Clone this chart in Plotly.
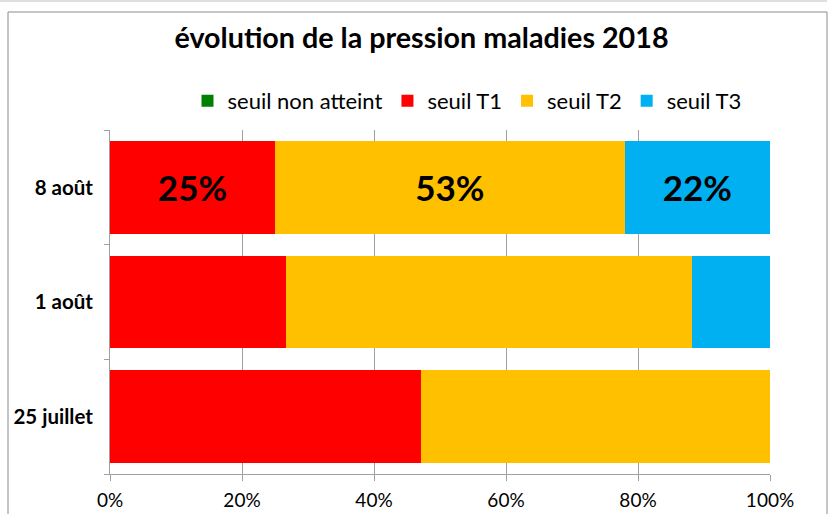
import plotly.graph_objects as go

categories = ["25 juillet", "1 août", "8 août"]
series_names = ["seuil non atteint", "seuil T1", "seuil T2", "seuil T3"]
non_atteint = [0.0, 0.0, 0.0]
t1 = [0.471, 0.267, 0.25]
t2 = [0.529, 0.615, 0.53]
t3 = [0.0, 0.118, 0.22]
colors = ["#008000", "#FF0000", "#FFC000", "#00B0F0"]
labelled_categories = ["8 août"]
x_ticks = [0, 0.2, 0.4, 0.6, 0.8, 1.0]
x_ticktext = ["0%", "20%", "40%", "60%", "80%", "100%"]

FONT = "Lato"
W, H = 834, 514
L, R, T, B = 110, 64, 130, 40
pw, ph = W - L - R, H - T - B

fig = go.Figure()
for name, vals, col in zip(series_names, [non_atteint, t1, t2, t3], colors):
    texts = [f"{round(v*100)}%" if (c in labelled_categories and v > 0) else ""
             for c, v in zip(categories, vals)]
    fig.add_trace(go.Bar(
        y=categories, x=vals, name=name, orientation="h",
        marker=dict(color=col, line=dict(width=0)),
        text=texts, textposition="inside", insidetextanchor="middle",
        textfont=dict(family=FONT, size=35, color="black", weight="bold"),
        textangle=0, cliponaxis=False,
    ))

def px(x):
    return (x - L) / pw

def py(y):
    return (H - B - y) / ph

fig.update_layout(
    width=W, height=H,
    barmode="stack", bargap=0.19,
    uniformtext=dict(mode=False),
    margin=dict(l=L, r=R, t=T, b=B, pad=0, autoexpand=False),
    paper_bgcolor="white", plot_bgcolor="white",
    title=dict(text="<b>évolution de la pression maladies 2018</b>",
               x=px(421.5), xanchor="center", xref="paper",
               y=1 - 38 / H, yanchor="middle", yref="container",
               font=dict(family=FONT, size=28.7, color="black")),
    legend=dict(orientation="h", x=px(467), xanchor="center",
                y=1 - 101 / H, yanchor="middle", yref="container",
                font=dict(family=FONT, size=22, color="black"),
                itemwidth=30, traceorder="normal", itemclick=False),
    xaxis=dict(range=[0, 1], tickvals=x_ticks, ticktext=x_ticktext,
               automargin=False,
               showgrid=True, gridcolor="#A0A0A0", gridwidth=1,
               showline=True, linecolor="#A0A0A0", linewidth=1,
               ticks="outside", ticklen=6, tickcolor="#A0A0A0",
               ticklabelstandoff=3,
               zeroline=False,
               tickfont=dict(family=FONT, size=19, color="black")),
    yaxis=dict(showline=True, linecolor="#A0A0A0", linewidth=1,
               automargin=False,
               ticks="outside", ticklen=5, tickcolor="#A0A0A0",
               tickson="boundaries", showgrid=False,
               ticklabelstandoff=12,
               tickfont=dict(family=FONT, size=20.5, color="black", weight="bold")),
    font=dict(family=FONT),
    shapes=[
        dict(type="rect", xref="paper", yref="paper",
             x0=px(8), x1=px(827), y0=py(530), y1=py(12),
             line=dict(color="#8C8C8C", width=1), layer="below"),
        dict(type="line", xref="paper", yref="paper",
             x0=px(0), x1=px(827), y0=py(1), y1=py(1),
             line=dict(color="#BFBFBF", width=1), layer="below"),
    ],
)

fig.write_html("out.html",
               config={"displayModeBar": False},
               post_script="document.body.style.margin='0px';document.body.style.overflow='hidden';")
